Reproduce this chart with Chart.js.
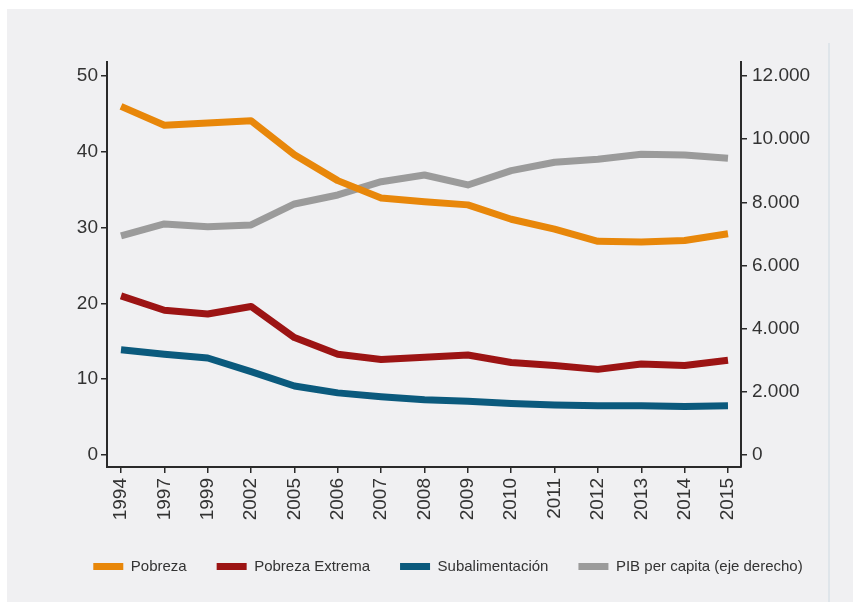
<!DOCTYPE html>
<html>
<head>
<meta charset="utf-8">
<script src="https://cdn.jsdelivr.net/npm/chart.js@4.4.1/dist/chart.umd.min.js"></script>
<style>
  html, body { margin: 0; padding: 0; background: #ffffff; }
  #bg { position: absolute; left: 7px; top: 9px; width: 846px; height: 593px; background: #f0f0f2; }
  #vline { position: absolute; left: 828px; top: 43px; width: 2px; height: 559px; background: #dfe5ea; }
  #c { position: absolute; left: 0; top: 0; }
</style>
</head>
<body>
<div id="bg"></div>
<div id="vline"></div>
<canvas id="c" width="853" height="602"></canvas>
<script>
const years = ["1994","1997","1999","2002","2005","2006","2007","2008","2009","2010","2011","2012","2013","2014","2015"];
const pobreza = [46.0, 43.5, 43.8, 44.1, 39.6, 36.2, 33.9, 33.4, 33.0, 31.1, 29.8, 28.2, 28.1, 28.3, 29.2];
const pobrezaExtrema = [21.0, 19.1, 18.6, 19.6, 15.5, 13.3, 12.6, 12.9, 13.2, 12.2, 11.8, 11.3, 12.0, 11.8, 12.5];
const subalimentacion = [13.9, 13.3, 12.8, 11.0, 9.1, 8.2, 7.7, 7.3, 7.1, 6.8, 6.6, 6.5, 6.5, 6.4, 6.5];
const pibPerCapita = [6935, 7315, 7230, 7283, 7948, 8233, 8654, 8866, 8550, 9003, 9268, 9363, 9522, 9500, 9395];
const leftTicks = [0, 10, 20, 30, 40, 50];
const rightTicks = [0, 2000, 4000, 6000, 8000, 10000, 12000];
const seriesNames = ["Pobreza", "Pobreza Extrema", "Subalimentación", "PIB per capita (eje derecho)"];

const toPts = arr => arr.map((v, i) => ({ x: i, y: v }));
const fmtThousands = v => String(v).replace(/\B(?=(\d{3})+(?!\d))/g, ".");

const tickFont = { family: "'Liberation Sans', Arial, sans-serif", size: 19 };
const axisColor = "#2a2a2a";
const labelColor = "#333333";

function mkDs(label, data, color, axis) {
  return {
    label, data: toPts(data), borderColor: color, backgroundColor: color,
    borderWidth: 7, pointRadius: 0, tension: 0, yAxisID: axis,
    borderJoinStyle: "round", borderCapStyle: "butt"
  };
}

new Chart(document.getElementById("c"), {
  type: "line",
  data: {
    datasets: [
      mkDs(seriesNames[0], pobreza, "#e8870a", "yL"),
      mkDs(seriesNames[1], pobrezaExtrema, "#9c1414", "yL"),
      mkDs(seriesNames[2], subalimentacion, "#0b5a7d", "yL"),
      mkDs(seriesNames[3], pibPerCapita, "#9b9b9b", "yR")
    ]
  },
  options: {
    responsive: false,
    animation: false,
    layout: { padding: { left: 50, right: 7, top: 62, bottom: 18 } },
    plugins: {
      tooltip: { enabled: false },
      legend: {
        position: "bottom",
        labels: {
          boxWidth: 30, boxHeight: 7, padding: 30, color: labelColor,
          font: { family: "'Liberation Sans', Arial, sans-serif", size: 15 },
          generateLabels(chart) {
            const items = Chart.defaults.plugins.legend.labels.generateLabels(chart);
            items.forEach(it => { it.lineWidth = 0; it.fillStyle = it.strokeStyle; });
            return items;
          }
        }
      }
    },
    scales: {
      x: {
        type: "linear", min: -0.323, max: 14.3,
        afterBuildTicks(s) { s.ticks = years.map((y, i) => ({ value: i })); },
        afterFit(s) { s.height = 62; },
        ticks: {
          callback: (v) => years[v], minRotation: 90, maxRotation: 90,
          color: labelColor, font: tickFont, padding: 5, autoSkip: false
        },
        grid: { drawOnChartArea: false, drawTicks: true, tickLength: 6, color: axisColor, lineWidth: 1.5 },
        border: { color: axisColor, width: 2 }
      },
      yL: {
        type: "linear", position: "left", min: -1.58, max: 51.85,
        afterBuildTicks(s) { s.ticks = leftTicks.map(v => ({ value: v })); },
        afterFit(s) { s.width = 57; },
        ticks: { color: labelColor, font: tickFont, padding: 3 },
        grid: { drawOnChartArea: false, tickLength: 6, color: axisColor, lineWidth: 1.5 },
        border: { color: axisColor, width: 2 }
      },
      yR: {
        type: "linear", position: "right", min: -380, max: 12443,
        afterBuildTicks(s) { s.ticks = rightTicks.map(v => ({ value: v })); },
        afterFit(s) { s.width = 105; },
        ticks: { color: labelColor, font: tickFont, padding: 5, callback: v => fmtThousands(v) },
        grid: { drawOnChartArea: false, tickLength: 6, color: axisColor, lineWidth: 1.5 },
        border: { color: axisColor, width: 2 }
      }
    }
  }
});
</script>
</body>
</html>
